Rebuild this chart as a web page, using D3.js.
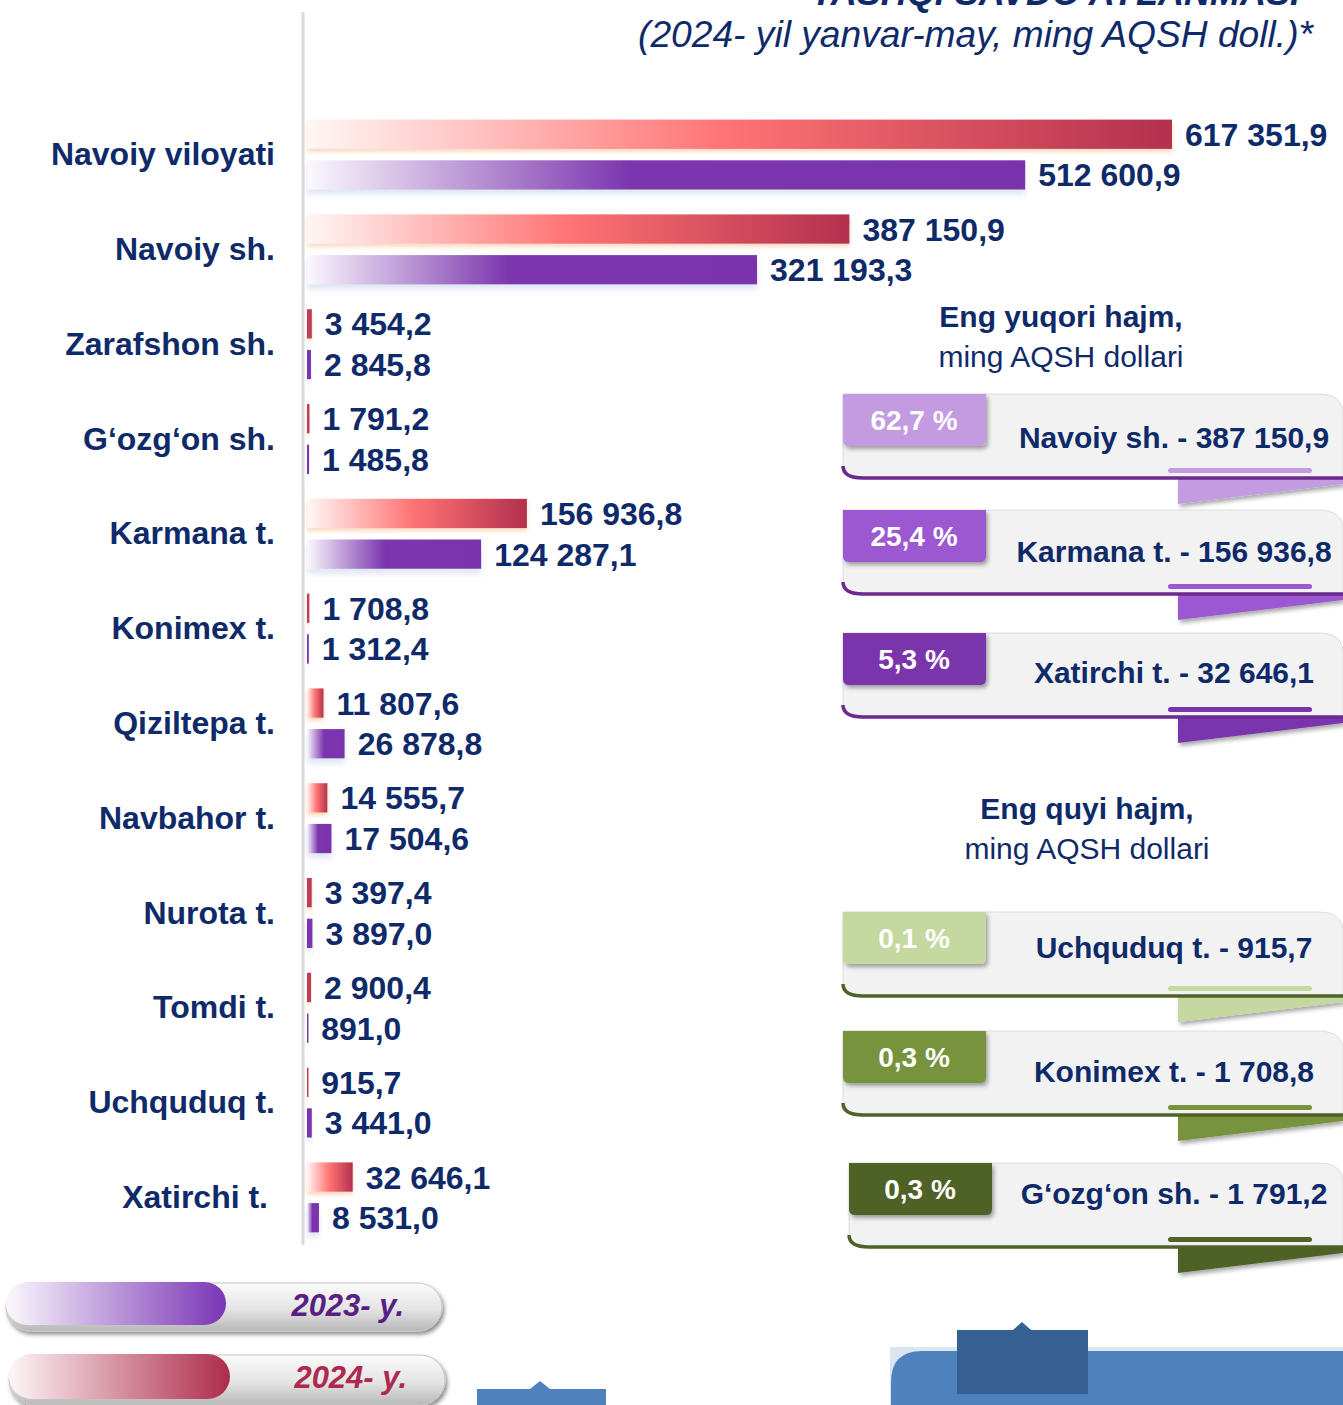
<!DOCTYPE html>
<html>
<head>
<meta charset="utf-8">
<script src="https://cdn.jsdelivr.net/npm/d3@7"></script>
<style>
  body { margin: 0; background: #fff; }
  svg { display: block; font-family: 'Liberation Sans', Arial, sans-serif; }
</style>
</head>
<body>
<svg id="chart" width="1343" height="1405"></svg>
<script>
const categories = ['Navoiy viloyati', 'Navoiy sh.', 'Zarafshon sh.', 'G‘ozg‘on sh.', 'Karmana t.',
  'Konimex t.', 'Qiziltepa t.', 'Navbahor t.', 'Nurota t.', 'Tomdi t.', 'Uchquduq t.', 'Xatirchi t.']
const values2024 = [617351.9, 387150.9, 3454.2, 1791.2, 156936.8, 1708.8, 11807.6, 14555.7, 3397.4, 2900.4, 915.7, 32646.1]
const values2023 = [512600.9, 321193.3, 2845.8, 1485.8, 124287.1, 1312.4, 26878.8, 17504.6, 3897.0, 891.0, 3441.0, 8531.0]
const seriesKeys = ['2024', '2023']
const legendLabels = ['2023- y.', '2024- y.']
const titleText = '(2024- yil yanvar-may, ming AQSH doll.)*'
const topTitleText = 'TASHQI SAVDO AYLANMASI'
const highHeading = ['Eng yuqori hajm,', 'ming AQSH dollari']
const lowHeading = ['Eng quyi hajm,', 'ming AQSH dollari']

const navy = '#0f2a69'
const svg = d3.select('#chart')
const defs = svg.append('defs')

const locale = d3.formatLocale({ decimal: ',', thousands: ' ', grouping: [3], currency: ['', ''] })
const fmt = locale.format(',.1f')

// gradients
function hGrad (id, stops) {
  const g = defs.append('linearGradient').attr('id', id).attr('x1', 0).attr('x2', 1).attr('y1', 0).attr('y2', 0)
  stops.forEach(s => g.append('stop').attr('offset', s[0]).attr('stop-color', s[1]))
}
function vGrad (id, stops) {
  const g = defs.append('linearGradient').attr('id', id).attr('x1', 0).attr('x2', 0).attr('y1', 0).attr('y2', 1)
  stops.forEach(s => g.append('stop').attr('offset', s[0]).attr('stop-color', s[1]))
}
hGrad('g2024', [[0, '#fff7f5'], [0.48, '#ff7474'], [1, '#b3304e']])
hGrad('g2023', [[0, '#fbf8fd'], [0.45, '#7b35ae'], [1, '#7a33ad']])
hGrad('leg2023', [[0, '#fbf8fd'], [1, '#7a35b5']])
hGrad('leg2024', [[0, '#fdf5f7'], [1, '#ad2c4c']])
vGrad('pill', [[0, '#fbfbfb'], [0.55, '#e4e4e4'], [1, '#b8b8b8']])

function shadow (id, dx, dy, sd, color, op) {
  defs.append('filter').attr('id', id).attr('x', '-20%').attr('y', '-40%').attr('width', '140%').attr('height', '200%')
    .append('feDropShadow').attr('dx', dx).attr('dy', dy).attr('stdDeviation', sd)
    .attr('flood-color', color).attr('flood-opacity', op)
}
shadow('shRed', 0, 3, 2, '#f6b98a', 0.55)
shadow('shPurple', 0, 5, 3, '#c4d0e8', 0.55)
shadow('shCard', 2, 3, 2, '#000', 0.35)
shadow('shPill', 2, 3, 2, '#000', 0.45)

// scales
const x = d3.scaleLinear().domain([0, d3.max(values2024)]).range([307, 1172])
const y = d3.scaleBand().domain(categories).range([106.6, 1244.2])
const inner = d3.scaleBand().domain(seriesKeys).range([13, 83]).paddingInner(0.28)
const seriesVals = { 2024: values2024, 2023: values2023 }
const seriesSolid = { 2024: '#c43a55', 2023: '#7b35ae' }

// titles
svg.append('text').attr('x', 1300).attr('y', 5).attr('text-anchor', 'end')
  .attr('font-size', 36).attr('font-weight', 'bold').attr('font-style', 'italic').attr('fill', navy)
  .text(topTitleText)
svg.append('text').attr('x', 1313).attr('y', 47).attr('text-anchor', 'end')
  .attr('font-size', 36).attr('font-style', 'italic').attr('fill', navy)
  .attr('textLength', 675).attr('lengthAdjust', 'spacingAndGlyphs')
  .text(titleText)

// axis line
svg.append('line').attr('x1', 303).attr('x2', 303).attr('y1', 12).attr('y2', 1245)
  .attr('stroke', '#d9d9d9').attr('stroke-width', 3)

// category labels
svg.append('g').selectAll('text').data(categories).join('text')
  .attr('x', d => d === 'Xatirchi t.' ? 268 : 275)
  .attr('y', d => y(d) + y.bandwidth() / 2)
  .attr('dy', '0.35em').attr('text-anchor', 'end')
  .attr('font-size', 32).attr('font-weight', 'bold').attr('fill', navy)
  .text(d => d)

// bars
const rows = svg.append('g').selectAll('g').data(categories).join('g')
  .attr('transform', d => `translate(0,${y(d)})`)

const barData = d => seriesKeys.map(k => ({ key: k, value: seriesVals[k][categories.indexOf(d)] }))

rows.selectAll('rect').data(barData).join('rect')
  .attr('x', x(0))
  .attr('y', d => inner(d.key))
  .attr('height', inner.bandwidth())
  .attr('width', d => Math.max(1.5, x(d.value) - x(0)))
  .attr('fill', d => (x(d.value) - x(0) < 8 ? seriesSolid[d.key] : `url(#g${d.key})`))
  .attr('filter', d => (d.key === '2024' ? 'url(#shRed)' : 'url(#shPurple)'))

rows.selectAll('text').data(barData).join('text')
  .attr('x', d => x(d.value) + 13)
  .attr('y', d => inner(d.key) + inner.bandwidth() / 2)
  .attr('dy', '0.36em')
  .attr('font-size', 32).attr('font-weight', 'bold').attr('fill', navy)
  .text(d => fmt(d.value))

// right side cards
const total = values2024[0]
const towns = categories.map((c, i) => ({ name: c, value: values2024[i] })).slice(1)
const highest = towns.slice().sort((a, b) => b.value - a.value).slice(0, 3)
const lowest = towns.slice().sort((a, b) => a.value - b.value).slice(0, 3)
const pctFmt = v => locale.format('.1f')(v * 100) + ' %'

function heading (lines, cx, yy) {
  svg.append('text').attr('x', cx).attr('y', yy).attr('text-anchor', 'middle')
    .attr('font-size', 30).attr('font-weight', 'bold').attr('fill', navy).text(lines[0])
  svg.append('text').attr('x', cx).attr('y', yy + 40).attr('text-anchor', 'middle')
    .attr('font-size', 30).attr('fill', navy).text(lines[1])
}
heading(highHeading, 1061, 327)
heading(lowHeading, 1087, 819)

function card (top, x0, color, lineColor, item, textDy) {
  const g = svg.append('g')
  const bottom = top + 84
  // ribbon
  g.append('path')
    .attr('d', `M1178,${bottom + 1}L1343,${bottom + 1}L1343,${bottom + 6}L1178,${bottom + 26}Z`)
    .attr('fill', color).attr('filter', 'url(#shCard)')
  // body
  g.append('path')
    .attr('d', `M${x0},${top}L1318,${top}Q1343,${top} 1343,${top + 20}L1343,${bottom}L${x0 + 20},${bottom}Q${x0},${bottom} ${x0},${bottom - 12}Z`)
    .attr('fill', '#f2f2f2').attr('stroke', '#dcdcdc').attr('stroke-width', 1)
  g.append('path')
    .attr('d', `M${x0},${bottom - 12}Q${x0},${bottom} ${x0 + 20},${bottom}L1343,${bottom}`)
    .attr('fill', 'none').attr('stroke', lineColor).attr('stroke-width', 3.5)
  // small underline
  g.append('rect').attr('x', 1168).attr('y', bottom - 10).attr('width', 144).attr('height', 5)
    .attr('rx', 2.5).attr('fill', color)
  // badge
  g.append('path')
    .attr('d', `M${x0},${top}L${x0 + 143},${top}L${x0 + 143},${top + 46}Q${x0 + 143},${top + 52} ${x0 + 137},${top + 52}L${x0 + 6},${top + 52}Q${x0},${top + 52} ${x0},${top + 46}Z`)
    .attr('fill', color).attr('filter', 'url(#shCard)')
  g.append('text').attr('x', x0 + 71).attr('y', top + 26).attr('dy', '0.35em')
    .attr('text-anchor', 'middle').attr('font-size', 28).attr('font-weight', 'bold').attr('fill', '#fff')
    .text(pctFmt(item.value / total))
  g.append('text').attr('x', 1174).attr('y', top + textDy).attr('dy', '0.35em')
    .attr('text-anchor', 'middle').attr('font-size', 30).attr('font-weight', 'bold').attr('fill', navy)
    .text(`${item.name} - ${fmt(item.value)}`)
}

const highTops = [394, 510, 633]
const highText = [43, 41, 39]
const highColors = ['#c49be0', '#9b59d0', '#7a35ad']
const lowTops = [912, 1031, 1163]
const lowText = [35, 40, 30]
const lowX = [843, 843, 849]
const lowColors = ['#c4d89f', '#77933c', '#4f6228']

highest.forEach((d, i) => card(highTops[i], 843, highColors[i], '#6a2a8e', d, highText[i]))
lowest.forEach((d, i) => card(lowTops[i], lowX[i], lowColors[i], '#4f6228', d, lowText[i]))

// legend
const legend = [
  { label: legendLabels[0], grad: 'leg2023', color: '#5a1f84', x: 6, y: 1283, h: 48, iw: 220 },
  { label: legendLabels[1], grad: 'leg2024', color: '#ad2a4e', x: 9, y: 1355, h: 50, iw: 221 }
]
const lg = svg.append('g').selectAll('g').data(legend).join('g')
lg.append('rect').attr('x', d => d.x).attr('y', d => d.y).attr('width', 436).attr('height', d => d.h)
  .attr('rx', d => d.h / 2).attr('fill', 'url(#pill)').attr('stroke', '#c6c6c6').attr('filter', 'url(#shPill)')
lg.append('rect').attr('x', d => d.x).attr('y', d => d.y - 1).attr('width', d => d.iw).attr('height', d => d.h - 5)
  .attr('rx', d => (d.h - 5) / 2).attr('fill', d => `url(#${d.grad})`)
lg.append('text').attr('x', d => d.x + 398).attr('y', d => d.y + 22).attr('dy', '0.35em')
  .attr('text-anchor', 'end').attr('font-size', 31).attr('font-weight', 'bold').attr('font-style', 'italic')
  .attr('fill', d => d.color).text(d => d.label)

// decorative blue shapes at the bottom
svg.append('path').attr('d', 'M477,1389L530,1389L540,1381L550,1389L606,1389L606,1405L477,1405Z').attr('fill', '#4f81bd')
svg.append('rect').attr('x', 890).attr('y', 1347).attr('width', 453).attr('height', 58).attr('fill', '#dbe5f1')
svg.append('path').attr('d', 'M891,1405L891,1382Q891,1351 922,1351L1343,1351L1343,1405Z').attr('fill', '#4f81bd')
svg.append('path').attr('d', 'M957,1330L1013,1330L1022,1322L1031,1330L1088,1330L1088,1394L957,1394Z').attr('fill', '#366092')
</script>
</body>
</html>
